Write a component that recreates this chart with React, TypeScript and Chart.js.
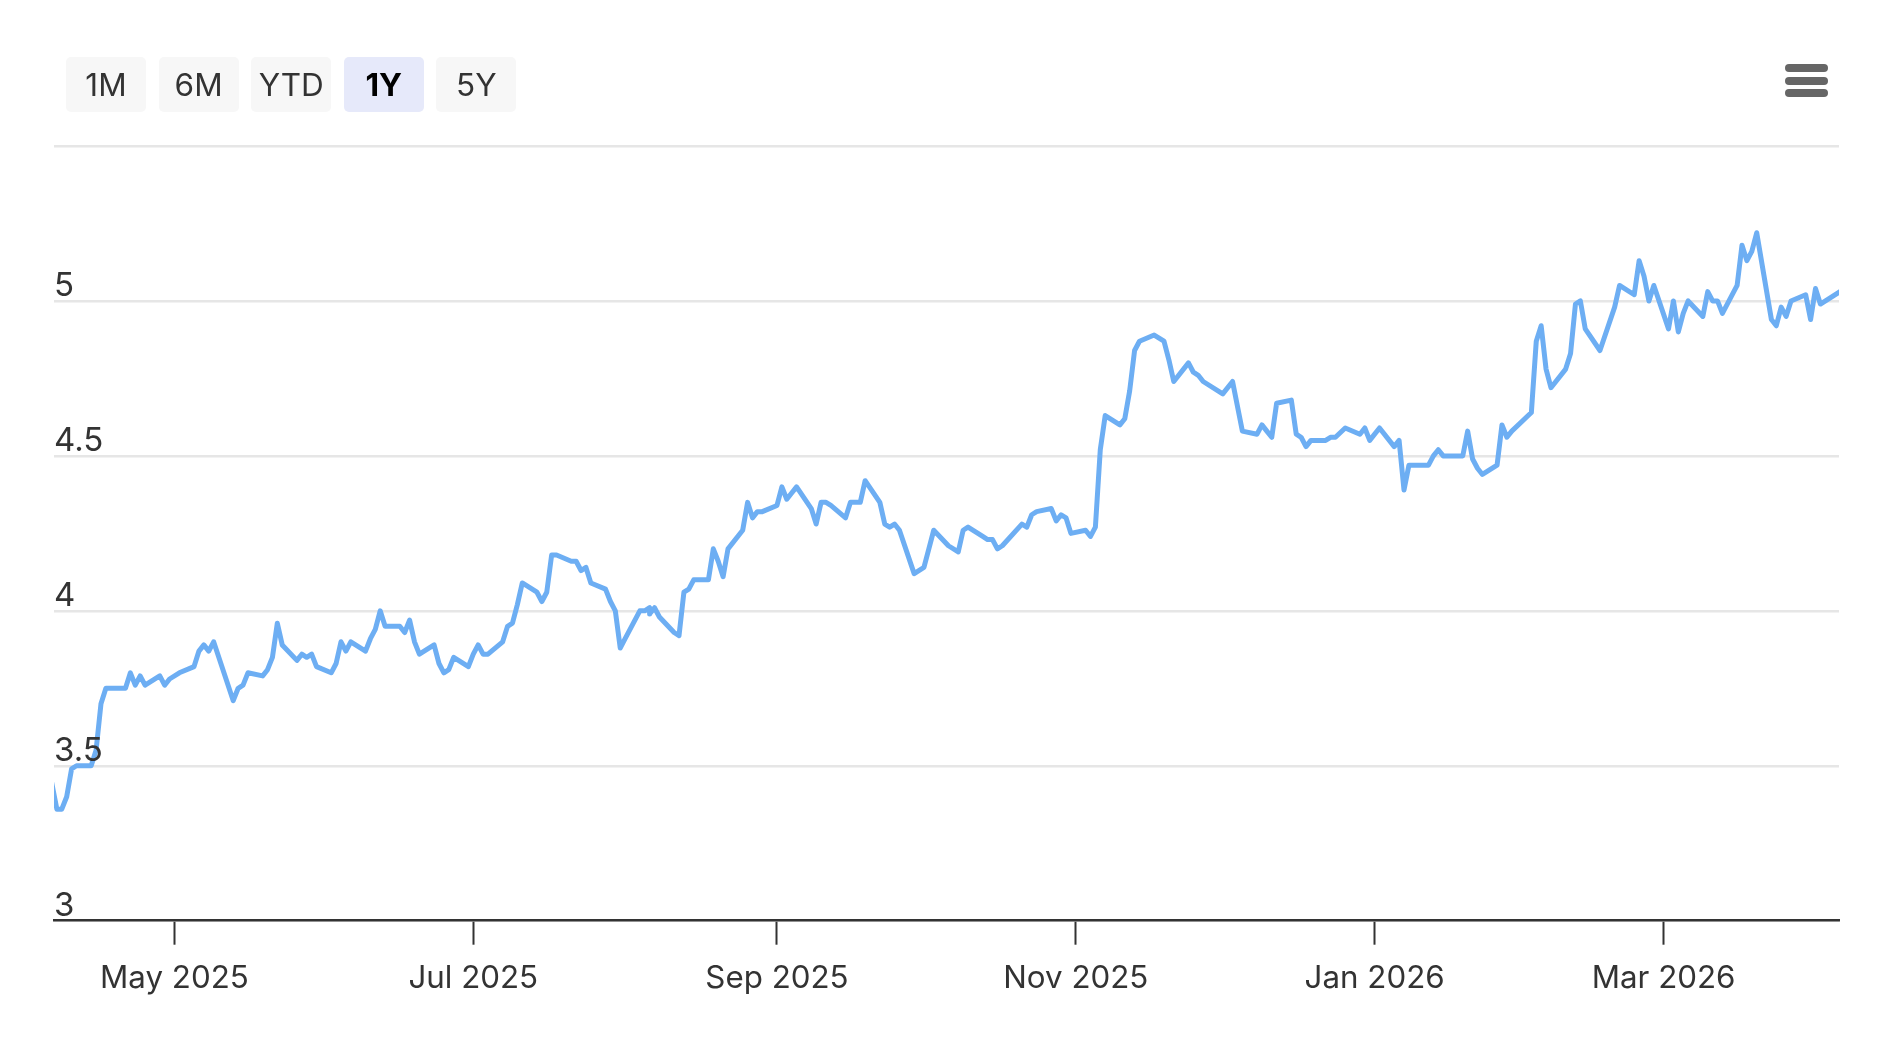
import { useEffect, useRef } from "react";
import { Chart, registerables } from "chart.js";

Chart.register(...registerables);

const DAY = 86400000;
const FONT = "Inter, sans-serif";

const rangeLabels = ["1M", "6M", "YTD", "1Y", "5Y"];
const activeRange = "1Y";

const yTicks = [3, 3.5, 4, 4.5, 5];

const tickDates = ["2025-05-01", "2025-07-01", "2025-09-01", "2025-11-01", "2026-01-01", "2026-03-01"];
const tickLabels = ["May 2025", "Jul 2025", "Sep 2025", "Nov 2025", "Jan 2026", "Mar 2026"];

const dates = [
  "2025-04-04", "2025-04-07", "2025-04-08", "2025-04-09", "2025-04-10", "2025-04-11", "2025-04-14", "2025-04-15", "2025-04-16", "2025-04-17", "2025-04-21", "2025-04-22", "2025-04-23", "2025-04-24", "2025-04-25", "2025-04-28", "2025-04-29", "2025-04-30",
  "2025-05-02", "2025-05-05", "2025-05-06", "2025-05-07", "2025-05-08", "2025-05-09", "2025-05-13", "2025-05-14", "2025-05-15", "2025-05-16", "2025-05-19", "2025-05-20", "2025-05-21", "2025-05-22", "2025-05-23", "2025-05-26", "2025-05-27", "2025-05-28", "2025-05-29", "2025-05-30",
  "2025-06-02", "2025-06-03", "2025-06-04", "2025-06-05", "2025-06-06", "2025-06-09", "2025-06-10", "2025-06-11", "2025-06-12", "2025-06-13", "2025-06-16", "2025-06-17", "2025-06-18", "2025-06-19", "2025-06-20", "2025-06-23", "2025-06-24", "2025-06-25", "2025-06-26", "2025-06-27", "2025-06-30",
  "2025-07-01", "2025-07-02", "2025-07-03", "2025-07-04", "2025-07-07", "2025-07-08", "2025-07-09", "2025-07-10", "2025-07-11", "2025-07-14", "2025-07-15", "2025-07-16", "2025-07-17", "2025-07-18", "2025-07-21", "2025-07-22", "2025-07-23", "2025-07-24", "2025-07-25", "2025-07-28", "2025-07-29", "2025-07-30", "2025-07-31",
  "2025-08-01", "2025-08-04", "2025-08-05", "2025-08-06", "2025-08-06", "2025-08-07", "2025-08-08", "2025-08-11", "2025-08-12", "2025-08-13", "2025-08-14", "2025-08-15", "2025-08-18", "2025-08-19", "2025-08-20", "2025-08-21", "2025-08-22", "2025-08-25", "2025-08-26", "2025-08-27", "2025-08-28", "2025-08-29",
  "2025-09-01", "2025-09-02", "2025-09-03", "2025-09-04", "2025-09-05", "2025-09-08", "2025-09-09", "2025-09-10", "2025-09-11", "2025-09-12", "2025-09-15", "2025-09-16", "2025-09-17", "2025-09-18", "2025-09-19", "2025-09-22", "2025-09-23", "2025-09-24", "2025-09-25", "2025-09-26", "2025-09-29",
  "2025-10-01", "2025-10-02", "2025-10-03", "2025-10-06", "2025-10-08", "2025-10-09", "2025-10-10", "2025-10-13", "2025-10-14", "2025-10-15", "2025-10-16", "2025-10-17", "2025-10-21", "2025-10-22", "2025-10-23", "2025-10-24", "2025-10-27", "2025-10-28", "2025-10-29", "2025-10-30", "2025-10-31",
  "2025-11-03", "2025-11-04", "2025-11-05", "2025-11-06", "2025-11-07", "2025-11-10", "2025-11-11", "2025-11-12", "2025-11-13", "2025-11-14", "2025-11-17", "2025-11-19", "2025-11-20", "2025-11-21", "2025-11-24", "2025-11-25", "2025-11-26", "2025-11-27",
  "2025-12-01", "2025-12-03", "2025-12-05", "2025-12-08", "2025-12-09", "2025-12-10", "2025-12-11", "2025-12-12", "2025-12-15", "2025-12-16", "2025-12-17", "2025-12-18", "2025-12-19", "2025-12-22", "2025-12-23", "2025-12-24", "2025-12-26", "2025-12-29", "2025-12-30", "2025-12-31",
  "2026-01-02", "2026-01-05", "2026-01-06", "2026-01-07", "2026-01-08", "2026-01-09", "2026-01-12", "2026-01-13", "2026-01-14", "2026-01-15", "2026-01-19", "2026-01-20", "2026-01-21", "2026-01-22", "2026-01-23", "2026-01-26", "2026-01-27", "2026-01-28", "2026-01-29",
  "2026-02-02", "2026-02-03", "2026-02-04", "2026-02-05", "2026-02-06", "2026-02-09", "2026-02-10", "2026-02-11", "2026-02-12", "2026-02-13", "2026-02-16", "2026-02-19", "2026-02-20", "2026-02-23", "2026-02-24", "2026-02-25", "2026-02-26", "2026-02-27",
  "2026-03-02", "2026-03-03", "2026-03-04", "2026-03-05", "2026-03-06", "2026-03-09", "2026-03-10", "2026-03-11", "2026-03-12", "2026-03-13", "2026-03-16", "2026-03-17", "2026-03-18", "2026-03-19", "2026-03-20", "2026-03-23", "2026-03-24", "2026-03-25", "2026-03-26", "2026-03-27", "2026-03-30", "2026-03-31",
  "2026-04-01", "2026-04-02", "2026-04-06",
];

const prices = [
  3.60, 3.36, 3.36, 3.40, 3.49, 3.50, 3.50, 3.55, 3.70, 3.75, 3.75, 3.80, 3.76, 3.79, 3.76, 3.79, 3.76, 3.78,
  3.80, 3.82, 3.87, 3.89, 3.87, 3.90, 3.71, 3.75, 3.76, 3.80, 3.79, 3.81, 3.85, 3.96, 3.89, 3.84, 3.86, 3.85, 3.86, 3.82,
  3.80, 3.83, 3.90, 3.87, 3.90, 3.87, 3.91, 3.94, 4.00, 3.95, 3.95, 3.93, 3.97, 3.90, 3.86, 3.89, 3.83, 3.80, 3.81, 3.85, 3.82,
  3.86, 3.89, 3.86, 3.86, 3.90, 3.95, 3.96, 4.02, 4.09, 4.06, 4.03, 4.06, 4.18, 4.18, 4.16, 4.16, 4.13, 4.14, 4.09, 4.07, 4.03, 4.00, 3.88,
  3.91, 4.00, 4.00, 4.01, 3.99, 4.01, 3.98, 3.93, 3.92, 4.06, 4.07, 4.10, 4.10, 4.20, 4.16, 4.11, 4.20, 4.26, 4.35, 4.30, 4.32, 4.32,
  4.34, 4.40, 4.36, 4.38, 4.40, 4.33, 4.28, 4.35, 4.35, 4.34, 4.30, 4.35, 4.35, 4.35, 4.42, 4.35, 4.28, 4.27, 4.28, 4.26, 4.12,
  4.14, 4.20, 4.26, 4.21, 4.19, 4.26, 4.27, 4.24, 4.23, 4.23, 4.20, 4.21, 4.28, 4.27, 4.31, 4.32, 4.33, 4.29, 4.31, 4.30, 4.25,
  4.26, 4.24, 4.27, 4.52, 4.63, 4.60, 4.62, 4.71, 4.84, 4.87, 4.89, 4.87, 4.81, 4.74, 4.80, 4.77, 4.76, 4.74,
  4.70, 4.74, 4.58, 4.57, 4.60, 4.58, 4.56, 4.67, 4.68, 4.57, 4.56, 4.53, 4.55, 4.55, 4.56, 4.56, 4.59, 4.57, 4.59, 4.55,
  4.59, 4.53, 4.55, 4.39, 4.47, 4.47, 4.47, 4.50, 4.52, 4.50, 4.50, 4.58, 4.49, 4.46, 4.44, 4.47, 4.60, 4.56, 4.58,
  4.64, 4.87, 4.92, 4.78, 4.72, 4.78, 4.83, 4.99, 5.00, 4.91, 4.84, 4.98, 5.05, 5.02, 5.13, 5.08, 5.00, 5.05,
  4.91, 5.00, 4.90, 4.96, 5.00, 4.95, 5.03, 5.00, 5.00, 4.96, 5.05, 5.18, 5.13, 5.16, 5.22, 4.94, 4.92, 4.98, 4.95, 5.00, 5.02, 4.94,
  5.04, 4.99, 5.03,
];

// Axis window: the picture starts a little after midnight on Apr 6
const X_MIN = Date.parse("2025-04-06") + 0.41 * DAY;
const X_MAX = Date.parse("2025-04-06") + 364.8 * DAY;

function RangeButton({ label }: { label: string }) {
  const active = label === activeRange;
  return (
    <div
      style={{
        width: 80,
        height: 55,
        borderRadius: 5,
        background: active ? "#e6e9fa" : "#f7f7f7",
        color: active ? "#000" : "#333",
        font: `${active ? 700 : 400} 31.5px ${FONT}`,
        display: "flex",
        alignItems: "center",
        justifyContent: "center",
      }}
    >
      {label}
    </div>
  );
}

function MenuIcon() {
  return (
    <div style={{ position: "absolute", left: 1785, top: 64, width: 43 }}>
      {[0, 1, 2].map((i) => (
        <div key={i} style={{ height: 8, borderRadius: 4, background: "#666", marginBottom: 4.5 }} />
      ))}
    </div>
  );
}

export default function App() {
  const canvasRef = useRef<HTMLCanvasElement>(null);

  useEffect(() => {
    if (!canvasRef.current) return;
    const chart = new Chart(canvasRef.current, {
      type: "line",
      data: {
        datasets: [
          {
            data: dates.map((d, i) => ({ x: Date.parse(d), y: prices[i] })),
            borderColor: "#6daef3",
            borderWidth: 5,
            borderJoinStyle: "round",
            borderCapStyle: "round",
            pointRadius: 0,
            tension: 0,
            fill: false,
          },
        ],
      },
      options: {
        responsive: false,
        animation: false,
        layout: { padding: { left: 54, right: 57, top: 146, bottom: 0 } },
        plugins: { legend: { display: false }, tooltip: { enabled: false } },
        scales: {
          x: {
            type: "linear",
            min: X_MIN,
            max: X_MAX,
            afterBuildTicks: (scale) => {
              scale.ticks = tickDates.map((d) => ({ value: Date.parse(d) }));
            },
            afterFit: (scale) => {
              scale.height = 131.3;
            },
            border: { color: "#333333", width: 2.5 },
            grid: { drawOnChartArea: false, drawTicks: true, tickLength: 24, tickColor: "#333333", tickWidth: 2 },
            ticks: {
              autoSkip: false,
              maxRotation: 0,
              padding: 15,
              color: "#333333",
              font: { family: FONT, size: 31.3 },
              callback: (_v, i) => tickLabels[i],
            },
          },
          y: {
            min: 3,
            max: 5.5,
            afterBuildTicks: (scale) => {
              scale.ticks = [...yTicks, 5.5].map((value) => ({ value }));
            },
            afterFit: (scale) => {
              scale.width = 0;
            },
            border: { display: false },
            grid: { color: "#e6e6e6", lineWidth: 2.5, drawTicks: false },
            ticks: {
              mirror: true,
              padding: 0,
              labelOffset: -15,
              z: 1,
              color: "#333333",
              font: { family: FONT, size: 33 },
              callback: (v) => (yTicks.includes(Number(v)) ? String(v) : ""),
            },
          },
        },
      },
    });
    return () => chart.destroy();
  }, []);

  return (
    <div style={{ position: "fixed", left: 0, top: 0, width: 1896, height: 1052, background: "#fff", overflow: "hidden" }}>
      <canvas ref={canvasRef} width={1896} height={1052} style={{ display: "block" }} />
      <div style={{ position: "absolute", left: 66, top: 57, display: "flex", gap: 12.6 }}>
        {rangeLabels.map((label) => (
          <RangeButton key={label} label={label} />
        ))}
      </div>
      <MenuIcon />
    </div>
  );
}
